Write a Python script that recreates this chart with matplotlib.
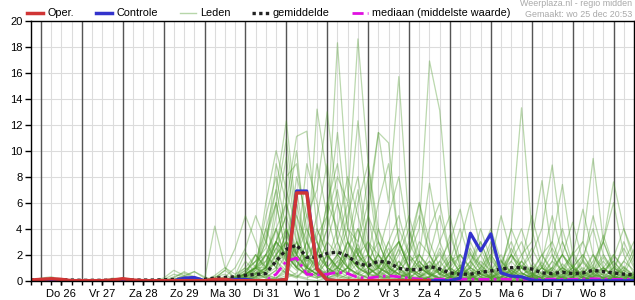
import numpy as np
import matplotlib
matplotlib.use("Agg")
import matplotlib.pyplot as plt
from matplotlib.lines import Line2D

plt.rcParams['font.family'] = ['Liberation Sans', 'DejaVu Sans']

# time axis: days since Thu 26 Dec 00:00, 6-hourly from 25 Dec 18:00
tijd = np.arange(60) * 0.25 - 0.25

dag_labels = ["Do 26", "Vr 27", "Za 28", "Zo 29", "Ma 30", "Di 31", "Wo 1",
              "Do 2", "Vr 3", "Za 4", "Zo 5", "Ma 6", "Di 7", "Wo 8"]
y_ticks = [0, 2, 4, 6, 8, 10, 12, 14, 16, 18, 20]

oper = [.05, .1, .15, .1, 0, 0, 0, 0, .05, .15,
        .05, 0, 0, 0, 0, 0, 0, 0, .1, .1,
        0, 0, 0, 0, 0, .1, 6.75, 6.75, .9, .05,
        0, 0, 0, 0, 0, 0, 0, 0, 0, 0,
        np.nan, np.nan, np.nan, np.nan, np.nan, np.nan, np.nan, np.nan, np.nan, np.nan,
        np.nan, np.nan, np.nan, np.nan, np.nan, np.nan, np.nan, np.nan, np.nan, np.nan]

controle = [0, 0, 0, 0, 0, 0, 0, 0, 0, 0,
            0, 0, 0, 0, 0, .2, .25, 0, 0, .05,
            .1, .1, 0, 0, 0, .1, 6.9, 6.9, .9, .05,
            0, 0, 0, 0, 0, 0, 0, 0, 0, 0,
            0, 0, .2, 3.65, 2.3, 3.6, .6, .35, .3, .05,
            0, 0, 0, 0, 0, 0, 0, 0, 0, 0]

gemiddelde = [.05, .08, .1, .08, .05, .03, .03, .03, .05, .07,
              .05, .05, .05, .07, .1, .12, .1, .1, .2, .25,
              .3, .42, .48, .55, 1.5, 2.4, 2.75, 1.8, 1.8, 2.1,
              2.2, 1.9, 1.3, 1.15, 1.5, 1.4, .95, .85, .85, 1.1,
              .9, .6, .5, .5, .65, .75, .9, 1.0, 1.0, .9,
              .6, .55, .65, .55, .6, .8, .7, .6, .5, .45]

mediaan = [0, 0, 0, 0, 0, 0, 0, 0, 0, 0,
           0, 0, 0, 0, 0, 0, 0, 0, 0, 0,
           0, 0, 0, .02, .5, 1.5, 1.75, .5, .45, .5,
           .65, .55, .25, .2, .3, .38, .3, .2, .12, .1,
           .12, .1, .1, .12, .1, .1, .12, .1, .1, .12,
           .1, .12, .1, .1, .12, .15, .12, .1, .1, .12]

leden = [
    [0, .1, .2, .1, 0, 0, 0, 0, 0, 0,  0, 0, 0, 0, 0, 0, 0, 0, 0, .1,
     .3, .5, 1, 1.5, 3, 5, 2, 1, 3.5, 5,  8, 6, 18.6, 9, 3, 1, .5, .2, 0, 0,
     0, .3, 1, .5, 0, 0, .2, .8, .3, 0,  0, 0, .5, 1.2, .3, 0, 0, .2, 0, 0],
    [0, 0, 0, 0, 0, 0, 0, 0, .1, .2,  .1, 0, 0, 0, 0, 0, 0, 0, 0, 0,
     .2, .5, 1, 3, 6, 2, 1, .5, 1.5, 4,  18.3, 7, 2, .5, 1, 2.5, 1, .3, 0, 0,
     0, 0, .5, 1.5, 3, 1, 0, 0, 0, .4,  1, .3, 0, 0, 0, .6, 1.5, .5, 0, 0],
    [0, 0, .1, 0, 0, 0, 0, 0, 0, 0,  0, 0, 0, 0, .2, .7, .3, 0, 0, .2,
     0, .3, .8, 2, 1, 3, 1.5, .5, 2, 1,  .5, 2.5, 4, 2, 1, 3, 5, 2, 4, 16.9,
     13.1, 4, 1, .3, 0, 0, .5, 2, 1, .2,  0, 0, 0, .3, .8, .2, 0, 0, .4, .2],
    [0, 0, 0, 0, 0, 0, 0, 0, 0, 0,  0, 0, 0, 0, 0, 0, 0, 0, .3, .5,
     0, 0, .5, 1, 2.5, 4, 1, 2, .8, .3,  1, 3, 2, 5, 11.4, 6, 15.7, 4, 1, .5,
     .2, 0, .3, 1, 2, .5, 0, 0, .3, 0,  0, .5, 2, 1, .3, 0, 0, 0, .2, .5],
    [0, .2, .3, .1, 0, 0, 0, 0, 0, 0,  0, 0, 0, 0, 0, 0, 0, 0, 0, 0,
     0, .2, .5, 1.5, 3, 2, 5, 3, 1, .5,  2, 1, .5, 1.5, 3, 1, .3, .5, 2, 1,
     .5, 1.5, 2, 1, .5, .2, 1, 4, 13.3, 4,  1, .5, .3, 0, 0, .5, 1, .3, 0, 0],
    [0, 0, 0, 0, 0, 0, 0, 0, 0, .1,  0, 0, 0, .1, .5, .3, .7, .2, 0, 0,
     .1, .5, 1, 2, 4, 6, 3, 1.5, 13.2, 8,  3, 1, 2, 1, .5, 1.5, .8, .3, 0, .2,
     .5, .2, 0, 0, .3, 1, .5, 0, 0, 0,  .3, 1, .4, 0, 0, 0, .2, .6, .3, 0],
    [0, 0, 0, 0, 0, 0, 0, 0, 0, 0,  0, 0, 0, 0, 0, 0, 0, 0, .1, .3,
     0, 0, .3, .8, 2, 3.5, 2, 5, 7, 13,  6, 2, 1, 3, 2, .5, .2, 1, .5, 0,
     0, .2, .8, .4, 0, 0, 0, .5, 1.2, .5,  0, 0, .3, .1, 0, .4, .3, 0, 0, .2],
    [0, .1, 0, 0, 0, 0, 0, 0, 0, 0,  0, 0, 0, 0, 0, 0, 0, 0, 0, 0,
     .1, .4, 1, 4, 7, 12.3, 5, 2, 1, .5,  1, 2, 1, .5, .3, 0, 0, .4, 1.5, .6,
     0, 0, 0, .2, .8, .3, 0, 0, 0, .2,  .6, .2, 0, 0, .3, .8, .2, 0, 0, 0],
    [0, 0, 0, 0, 0, 0, 0, 0, .2, .1,  0, 0, 0, 0, .3, .6, .2, 0, 0, 0,
     0, .2, 1, 2, 3, 6, 11.1, 11.5, 4, 2,  .5, 1, .3, .8, 2, .8, .2, 0, 0, .3,
     1, .4, 0, 0, 0, .2, .6, .2, 0, 0,  0, .4, 1, .5, 0, 0, 0, .3, .2, 0],
    [0, 0, 0, 0, 0, 0, 0, 0, 0, 0,  0, 0, 0, 0, 0, 0, 0, 0, .2, .8,
     .2, .5, 1, .5, 2, 3, 2, 4, 2, 5,  11.4, 4, 12.3, 5, 1, .5, .2, .8, .3, 0,
     0, .3, 1, .4, 0, 0, 0, 0, .5, .3,  0, 0, .2, .6, .2, 0, 0, .4, 1, .3],
    [0, 0, 0, 0, 0, 0, 0, 0, 0, 0,  0, 0, 0, 0, 0, .2, .1, 0, 0, 0,
     0, .1, .5, 1, 2, 1, 3, 1.5, 2, 1,  2, 4, 3, 6, 11.4, 10.6, 3, 1, .5, .2,
     0, 0, .2, .8, .3, 0, 0, .3, .6, .2,  0, 0, 0, .3, .7, .2, 0, 0, 0, .2],
    [0, 0, .1, 0, 0, 0, 0, 0, 0, 0,  0, 0, 0, 0, 0, 0, 0, 0, 0, 0,
     .1, .3, 1, 3.5, 6, 10.9, 4, 1, .5, 1.5,  3, 1, .5, .2, 0, .3, 1, .4, 0, 0,
     .2, .6, .2, 0, 0, 0, .3, .8, .3, 0,  0, 0, .3, .8, .2, 0, 0, .2, .4, 0],
    [0, 0, 0, 0, 0, 0, 0, 0, 0, 0,  0, 0, 0, 0, .1, .4, .7, .3, 0, .1,
     0, 0, .3, .8, 1.5, 2, 1, 3, 1.5, .5,  1, 2, 1, .5, 2, 1, .3, 0, .2, 1,
     2, .8, .3, 0, .2, .5, 1, 2, 1, .5,  .2, .5, 1, 2, 3, 9.4, 3, 1, .5, .2],
    [0, 0, 0, 0, 0, 0, 0, 0, .1, .1,  0, 0, 0, 0, 0, 0, 0, 0, 0, 0,
     0, .3, .6, 1, 2.5, 1.5, .8, 2, 3, 1,  .5, 1, 2.5, 1, .4, 2, 3, 1, .3, .8,
     1.5, .5, 0, .3, 1, 2, .8, .3, 1, 2,  4, 8.9, 3, 1, .3, 0, .3, 1, .5, .2],
    [0, 0, 0, 0, 0, 0, 0, 0, 0, 0,  0, 0, 0, 0, 0, 0, 0, 0, .4, 1,
     .2, .5, 1, .5, 1.5, 3, 1.5, 1, 4, 2,  1, .5, 2, 3, 1, .5, 1.5, .5, 0, .3,
     .8, .3, 0, .4, 1.5, .8, .2, .6, 2, 3,  7.7, 2, .5, .2, .8, 2, 1, .3, 0, .2],
    [0, 0, 0, 0, 0, 0, 0, 0, 0, 0,  0, 0, 0, 0, 0, 0, 0, 0, 0, 0,
     0, .2, .4, 1, 3, 2, 1, .5, 1, 3,  2, 1, .5, 1, .3, .2, 1, 2, 1, .5,
     .2, 0, .3, 1, .5, .2, .8, 1.5, .6, .2,  .3, 1, 2, 1, .5, 1.5, 3, 7.6, 4, 2],
    [0, 0, 0, 0, 0, 0, 0, 0, 0, 0,  0, 0, 0, 0, .1, .3, .2, .1, 4.2, 1.0,
     .5, 1, 2, 1, 3, 2, 1.5, .5, 1, 2,  1, 3, 1.5, .5, 1, 2, 3, 1.5, 2, 7.5,
     3, 1, .5, .2, 0, .3, 1, .5, 0, 0,  .2, .6, .2, 0, 0, .3, .5, .2, 0, 0],
    [0, 0, .1, .1, 0, 0, 0, 0, 0, 0,  0, 0, 0, 0, 0, 0, 0, 0, 0, 0,
     0, .1, .3, .8, 1.5, .8, 2, 1, .5, .3,  1.5, 2, 1, .6, .3, 1, .5, .2, .8, 1.5,
     .5, .2, .8, 2, 1.2, .5, .2, 1, .5, .8,  2, 3, 7.4, 2, .5, .2, .8, 1.5, .6, .3],
    [0, 0, 0, 0, 0, 0, 0, 0, 0, 0,  0, 0, 0, .2, .8, .4, 0, 0, 0, 0,
     .2, .5, 1, 5, 8, 4, 2, 6, 3, 1,  2, 5, 8, 3, 1, 2, 4, 2, 1, .5,
     1, 2, 1, .3, 0, .5, 1.5, .6, .2, 0,  .5, 1.5, .8, .2, 0, .3, 1, 2, .8, .3],
    [0, 0, 0, 0, 0, 0, 0, 0, 0, 0,  0, 0, 0, 0, 0, 0, 0, 0, 0, .3,
     1, 2.5, 5, 3, 1.5, 8, 9, 4, 2, 6,  4, 2, 1, 5, 3, 1, .5, 1, 3, 2,
     .8, .3, 1, 2.5, 1, .2, 0, .5, 1.5, .6,  .2, 0, .4, 1, 2, .8, .2, .5, 1.5, .8],
    [0, 0, 0, 0, 0, 0, 0, 0, 0, 0,  0, 0, 0, 0, 0, 0, 0, 0, 0, 0,
     .2, .8, 1.5, 4, 2, 3, 7, 2, 5, 9,  3, 6, 2, 1, 4, 2, 1, 3, 1.2, .4,
     1.5, 3, 5.5, 2, .8, .3, .2, 1, .4, 0,  0, .3, 1, .5, 1.8, 4, 1, .3, 0, 0],
    [0, 0, 0, 0, 0, 0, 0, 0, 0, 0,  0, 0, 0, 0, 0, 0, 0, 0, 0, 0,
     0, .5, 2, 1, 5, 9.5, 3, 1, 2, 4,  7, 3, 1.5, 2, 1, .6, 2.5, 5, 2, 1,
     3, 5, 1.5, .5, 2, 4, 1.5, .5, 0, .3,  1, 2.5, 1, .3, .6, 1.2, 3, 1, .4, 0],
    [0, 0, 0, 0, 0, 0, 0, 0, 0, 0,  0, 0, 0, 0, 0, 0, 0, 0, 0, 0,
     .3, 1, .5, 2, 4, 1.5, 8, 5, 3, 1,  .5, 2, 6, 9, 4, 1, 3, 1, .5, 2,
     5, 2, .5, 1, 3, 1, .3, 2, 4, 1.5,  .5, 1, 3, 1, .3, 2, .6, .2, 1.5, 3],
    [0, 0, 0, 0, 0, 0, 0, 0, 0, 0,  0, 0, 0, 0, 0, 0, 0, 0, 0, 0,
     .2, .5, 1, 1, 6, 2, 1, 3, 9, 5,  2, 1, 4, 2, 6, 9, 3, 1, .5, 1.5,
     .6, .2, .8, 3, 1.2, .4, .2, 1.5, 3, 1,  .3, .8, 2, 4.5, 1.5, .5, .2, 1, 2.5, 1],
    [0, 0, 0, 0, 0, 0, 0, 0, 0, 0,  0, 0, 0, 0, 0, 0, 0, 0, 0, 0,
     0, .3, 1, 3, 7, 3, 1, .5, 2, 6,  9, 4, 2, 1, 2, 5, 8, 3, 6, 2,
     .5, 1, 2, 1, .3, 1.5, 5, 2, .6, .2,  1, 3, 1, .4, 1.5, 5, 2, .8, .3, .6],
    [0, 0, 0, 0, 0, 0, 0, 0, 0, 0,  0, 0, 0, 0, 0, 0, 0, 0, 0, 0,
     .2, .6, 1.5, 2, 1, 4, 2, 9, 6, 2,  1, .5, 3, 8, 2, 1, .5, 2, 6, 3,
     1, .3, .2, 1.2, 4, 1.6, .6, .2, 1, 2.5,  1, .3, .5, 2, 5.5, 2, .6, 1.8, 4, 1.5],
    [0, 0, 0, 0, 0, 0, 0, 0, 0, 0,  0, 0, 0, 0, 0, 0, 0, 0, .2, .8,
     2.5, 5, 3, 1, 4, 1.5, 6, 2, 1, 3,  6, 3, 1, .5, 1, 3, 1, .2, .8, 4,
     6, 2, .6, .3, 1, 3, 1, .4, 1.5, 5,  2, .6, .2, 1, 3, 1, .4, 2, 1, .4],
    [0, 0, 0, 0, 0, 0, 0, 0, 0, 0,  0, 0, 0, 0, 0, 0, 0, 0, 0, 0,
     .3, .8, 1.5, 2.5, 9, 6, 2, 1, .5, 1.5,  4, 8, 5, 2, 1, .6, 2, 4, 1.5, .5,
     .2, 1, 3, 6, 2.5, .8, 2, .5, .2, .6,  2, .8, .3, 1, 2, .6, 3, 6, 2, .5],
    [0, 0, 0, 0, 0, 0, 0, 0, 0, 0,  0, 0, 0, 0, 0, 0, 0, 0, 0, 0,
     0, .2, .8, 6, 10, 7, 4, 1, .5, 2,  1, .6, 2.5, 1, .4, 1.5, 3, 1, .3, .6,
     2.5, 1, .3, .1, .5, 2, .8, 4, 2, .5,  .2, 1.5, 4, 1.2, .4, 1, 3.5, 1.2, .5, 2],
    [0, 0, 0, 0, 0, 0, 0, 0, 0, 0,  0, 0, 0, 0, 0, 0, 0, 0, 0, 0,
     .2, .6, 2, .8, 3, 5, 10, 3, 1, .4,  .8, 3, 7, 2, .8, .3, 1, 2.5, 5, 2,
     .4, 1.5, 4, 1.5, .5, .2, .6, 2.5, 1, .4,  1.5, 5, 2, .6, .2, .8, 2, .6, 3, 1.2],
    [0, 0, 0, 0, 0, 0, 0, 0, 0, 0,  0, 0, 0, 0, 0, 0, 0, 0, 0, 0,
     0, 0, .2, .5, 1, .6, .3, 1, .5, .2,  .4, 1, .5, .2, .6, 1.2, .5, .2, 0, .3,
     .8, .3, 0, .2, .6, .3, .1, .4, 1, .4,  .1, .3, .8, .3, .1, .5, 1, .4, .1, .3],
    [0, 0, 0, 0, 0, 0, 0, 0, 0, 0,  0, 0, 0, 0, 0, 0, 0, 0, 0, 0,
     .1, .3, .6, .2, .8, 2, 1, .4, .2, .6,  1.5, .6, .2, .5, 1.2, .5, .2, .6, 1.5, .6,
     .2, .5, 1.2, .5, .2, .8, 1.6, .6, .2, .4,  1, .4, .2, .6, 1.4, .5, .2, .4, .8, .3],
    [0, 0, 0, 0, 0, 0, 0, 0, 0, 0,  0, 0, 0, 0, 0, 0, 0, 0, 0, 0,
     0, .2, .1, .4, .2, 1, 2.5, .8, .3, .8,  .3, .1, .6, 1.5, .6, .2, .6, 1.8, .7, .2,
     .1, .6, 2, .8, .3, .1, .3, .8, .3, 1.2,  .5, .2, .1, .5, 1, .4, .1, .2, .6, .2],
    [0, 0, .1, 0, 0, 0, 0, 0, 0, 0,  0, 0, 0, 0, 0, 0, 0, 0, 0, 0,
     0, 0, .2, .6, 1.5, .5, .2, 1, 2.5, 1,  .4, .2, .8, 2, .7, .3, .1, .5, 1.2, .4,
     .1, .3, 1, 2.2, .8, .2, .1, .5, 1.5, .5,  .2, .8, 2, .7, .2, .1, .6, 1.5, .5, .2],
    [0, 0, 0, 0, 0, 0, 0, 0, 0, 0,  0, 0, 0, 0, 0, 0, 0, 0, 0, 0,
     .1, .4, 1.2, .5, .2, .8, 3, 1.2, .4, .2,  .6, 1.8, .6, .2, .1, .4, 1.5, .5, .2, .8,
     2.2, .8, .3, .1, .5, 1.8, .6, .2, .1, .4,  1.2, .4, .1, .3, 1.6, .6, .2, .1, .8, 2.4],
    [0, 0, 0, 0, 0, 0, 0, 0, 0, 0,  0, 0, 0, 0, 0, 0, 0, 0, 0, 0,
     0, .1, .3, 1, 3, 1, .4, .2, .6, 2,  .8, .3, .1, .4, 1.6, .6, .2, .1, .3, 1.2,
     .5, 1.8, .6, .2, .1, .4, 1.4, 3, 1, .3,  .1, .2, .7, 2.2, .8, .3, .1, .3, 1.1, .4],
    [0, 0, 0, 0, 0, 0, 0, 0, 0, 0,  0, 0, 0, 0, 0, 0, 0, 0, 0, 0,
     .2, 1.5, .6, .2, .1, .4, 2, .8, .3, .1,  .3, 1, 2.8, 1, .4, .1, .2, .6, 2, .7,
     .2, .1, .5, 1.5, .5, .2, .8, .3, .1, .4,  1.4, .5, .2, .1, .3, 1, .4, .1, .2, .7],
    [0, 0, 0, 0, 0, 0, 0, 0, 0, 0,  0, 0, 0, 0, 0, 0, 0, 0, 0, 0,
     0, 0, .1, .3, .8, 4, 1.5, .5, .2, .6,  1.8, .6, .2, .1, .5, 2, .7, .2, .1, .3,
     1, 3.5, 1.2, .4, .1, .2, .7, 2, .6, .2,  .1, .4, 1.3, .5, .2, .6, 1.8, .6, .2, .1],
    [0, 0, 0, 0, 0, 0, 0, 0, 0, 0,  0, 0, 0, 0, 0, 0, 0, 0, 0, 0,
     .4, 2.2, 1, .3, .1, .2, .6, 1.8, .6, .2,  .1, .5, 1.4, .5, .2, .8, 2.4, .8, .3, .1,
     .3, 1, .4, .1, .6, 2.6, .9, .3, .1, .2,  .7, 2, .7, .2, .1, .3, .9, .3, .1, .5],
    [0, 0, 0, 0, 0, 0, 0, 0, 0, 0,  0, 0, 0, 0, 0, 0, 0, 0, 0, 0,
     0, 0, 0, .1, .2, .6, .3, .1, 0, .2,  .5, .2, 0, .1, .4, .2, 0, .1, .3, .1,
     0, .2, .5, .2, 0, .1, .3, .1, 0, .2,  .4, .1, 0, .2, .5, .2, 0, .1, .3, .1],
]

fig = plt.figure(figsize=(6.35, 3.0), dpi=100)
ax = fig.add_axes([30.7 / 635, 1 - 280.7 / 300, (634 - 30.7) / 635, 260 / 300])

kleur_leden = '#4c9a2a'
for lid in leden:
    ax.plot(tijd, lid, color=kleur_leden, alpha=0.38, lw=0.9, zorder=2)
ax.plot(tijd, gemiddelde, color='#222222', lw=2.4, ls=(0, (1, 1)), zorder=3)
ax.plot(tijd, mediaan, color='#e010e0', lw=2.0, ls=(0, (4, 1.5, 1, 1.5)), zorder=4)
ax.plot(tijd, controle, color='#3333cc', lw=2.3, zorder=5)
ax.plot(tijd, oper, color='#d03535', lw=2.5, zorder=6)

ax.set_xlim(-0.25, 14.5)
ax.set_ylim(0, 20)
ax.set_yticks(y_ticks)
ax.set_xticks(np.arange(len(dag_labels)) + 0.5)
ax.set_xticklabels(dag_labels)
ax.set_xticks(np.arange(-0.25, 14.51, 0.25), minor=True)
ax.xaxis.remove_overlapping_locs = False
ax.tick_params(axis='x', which='both', length=3, width=1, pad=3, labelsize=8)
ax.tick_params(axis='y', length=4, width=1, pad=2, labelsize=8)
ax.set_axisbelow(True)
ax.grid(which='minor', axis='x', color='#dcdcdc', lw=0.8)
ax.grid(which='major', axis='y', color='#dcdcdc', lw=0.8)
for d in range(15):
    ax.axvline(d, color='#555555', lw=1.0, zorder=1)
for s in ax.spines.values():
    s.set_linewidth(1.0)
    s.set_color('black')
    s.set_zorder(10)

handles = [Line2D([], [], color='#d03535', lw=2.5),
           Line2D([], [], color='#3333cc', lw=2.5),
           Line2D([], [], color=kleur_leden, alpha=0.4, lw=1),
           Line2D([], [], color='#222222', lw=2.4, ls=(0, (1, 1))),
           Line2D([], [], color='#e010e0', lw=2.0, ls=(0, (4, 1.5, 1, 1.5)))]
labels = ['Oper.', 'Controle', 'Leden', 'gemiddelde', 'mediaan (middelste waarde)']
fig.legend(handles, labels, loc='center left', bbox_to_anchor=(27 / 635, 1 - 13.5 / 300),
           ncol=5, frameon=False, fontsize=7.8, handlelength=1.5, handletextpad=0.4,
           columnspacing=2.0, borderpad=0, borderaxespad=0)

fig.text(632 / 635, 1 - 4 / 300, 'Weerplaza.nl - regio midden', ha='right', va='center',
         fontsize=6.4, color='#a8a8a8')
fig.text(632 / 635, 1 - 14.5 / 300, 'Gemaakt: wo 25 dec 20:53', ha='right', va='center',
         fontsize=6.4, color='#a8a8a8')

fig.savefig('out.png', dpi=100)
